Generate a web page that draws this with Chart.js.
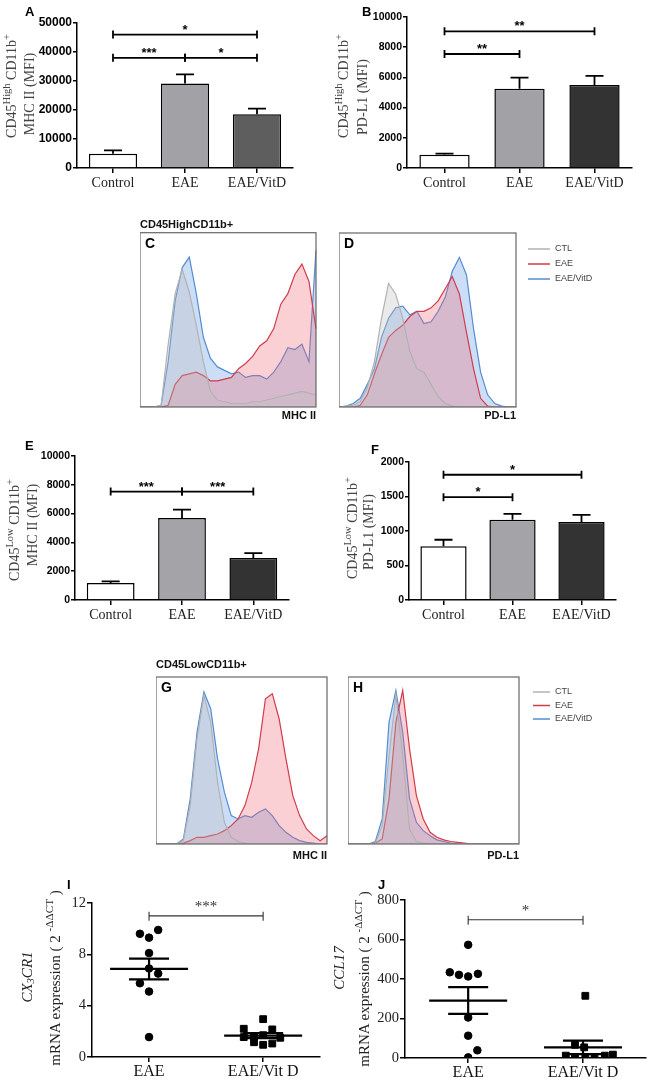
<!DOCTYPE html>
<html>
<head>
<meta charset="utf-8">
<title>CD45/CD11b activation markers</title>
<script src="https://cdn.jsdelivr.net/npm/chart.js@4.4.1/dist/chart.umd.min.js"></script>
<style>
  body { margin: 0; background: #fff; }
  #page { position: relative; width: 652px; height: 1091px; overflow: hidden; }
  canvas { position: absolute; }
  .tag { position: absolute; font: bold 13px "Liberation Sans", Arial, sans-serif; line-height: 1; color: #000; }
  .tag.in { font-size: 14px; }
  .yt { position: absolute; transform: translate(-50%, -50%) rotate(-90deg); white-space: nowrap;
        font: 14px "Liberation Serif", "Times New Roman", serif; line-height: 1; color: #444; }
  .yt sup { font-size: 0.75em; vertical-align: 0.55em; line-height: 0; }
  .yt sub { font-size: 0.7em; vertical-align: -0.25em; line-height: 0; }
  .yt.dot { color: #222; font-size: 15px; }
</style>
</head>
<body>
<div id="page">
  <canvas id="barA" width="326" height="200" style="left:0;top:0"></canvas>
  <canvas id="barB" width="326" height="200" style="left:326px;top:0"></canvas>
  <canvas id="histC" width="180" height="210" style="left:140px;top:214px"></canvas>
  <canvas id="histD" width="271" height="201" style="left:339px;top:223px"></canvas>
  <canvas id="barE" width="326" height="210" style="left:0;top:420px"></canvas>
  <canvas id="barF" width="326" height="210" style="left:326px;top:420px"></canvas>
  <canvas id="histG" width="175" height="207" style="left:156px;top:657px"></canvas>
  <canvas id="histH" width="262" height="197" style="left:348px;top:667px"></canvas>
  <canvas id="dotI" width="326" height="211" style="left:0;top:880px"></canvas>
  <canvas id="dotJ" width="326" height="211" style="left:326px;top:880px"></canvas>

  <div class="tag" style="left:25px;top:5px">A</div>
  <div class="tag" style="left:362px;top:5px">B</div>
  <div class="tag in" style="left:145px;top:236px">C</div>
  <div class="tag in" style="left:344px;top:236px">D</div>
  <div class="tag" style="left:25px;top:439px">E</div>
  <div class="tag" style="left:371px;top:443px">F</div>
  <div class="tag in" style="left:161px;top:680px">G</div>
  <div class="tag in" style="left:353px;top:680px">H</div>
  <div class="tag" style="left:67px;top:878px">I</div>
  <div class="tag" style="left:378px;top:878px">J</div>

  <div class="yt" style="left:12px;top:86px">CD45<sup>High</sup> CD11b<sup>+</sup></div>
  <div class="yt" style="left:30px;top:94px">MHC II (MFI)</div>
  <div class="yt" style="left:344px;top:86px">CD45<sup>High</sup> CD11b<sup>+</sup></div>
  <div class="yt" style="left:363px;top:97px">PD-L1 (MFI)</div>
  <div class="yt" style="left:15px;top:530px">CD45<sup>Low</sup> CD11b<sup>+</sup></div>
  <div class="yt" style="left:33px;top:525px">MHC II (MFI)</div>
  <div class="yt" style="left:353px;top:528px">CD45<sup>Low</sup> CD11b<sup>+</sup></div>
  <div class="yt" style="left:369px;top:532px">PD-L1 (MFI)</div>
  <div class="yt dot" style="left:27px;top:977px"><i>CX<sub>3</sub>CR1</i></div>
  <div class="yt dot" style="left:55px;top:978px">mRNA expression ( 2 <sup>-ΔΔCT</sup> )</div>
  <div class="yt dot" style="left:339px;top:968px"><i>CCL17</i></div>
  <div class="yt dot" style="left:364px;top:979px">mRNA expression ( 2 <sup>-ΔΔCT</sup> )</div>
</div>

<script>
// ---- bar panels (MFI, mean and SEM) ----
const groups = ['Control', 'EAE', 'EAE/VitD'];
const mhcHighMean = [4950, 29100, 18500];
const mhcHighSem = [1150, 3200, 1950];
const pdl1HighMean = [880, 5250, 5500];
const pdl1HighSem = [70, 730, 600];
const mhcLowMean = [1180, 5700, 2910];
const mhcLowSem = [110, 570, 350];
const pdl1LowMean = [778, 1162, 1130];
const pdl1LowSem = [95, 85, 105];

// [from group, to group, bracket height, stars]
const sigA = [[0, 1, 38000, '***'], [1, 2, 38000, '*'], [0, 2, 46000, '*']];
const sigB = [[0, 1, 7550, '**'], [0, 2, 9050, '**']];
const sigE = [[0, 1, 7530, '***'], [1, 2, 7530, '***']];
const sigF = [[0, 1, 1490, '*'], [0, 2, 1815, '*']];

// ---- flow histograms (% of max, per channel) ----
const histLabels = ['CTL', 'EAE', 'EAE/VitD'];
const channel = [0, 4, 8, 12, 16, 20, 24, 28, 32, 36, 40, 44, 48, 52, 56, 60, 64, 68, 72, 76, 80, 84, 88, 92, 96, 100];
const cGray = [0, 0, 0, 1, 36, 65, 79, 66, 47, 26, 9, 4, 3, 2, 2, 2, 3, 3, 4, 5, 6, 7, 8, 9, 8, 7];
const cRed = [0, 0, 0, 0, 1, 13, 18, 19, 20, 18, 15, 15, 16, 17, 22, 25, 29, 35, 38, 45, 59, 65, 76, 82, 72, 45];
const cBlue = [0, 0, 0, 1, 26, 61, 80, 86, 65, 40, 28, 23, 21, 19, 20, 17, 18, 18, 16, 20, 26, 34, 33, 36, 26, 90];
const dGray = [0, 0.5, 1, 3, 11, 26, 51, 71, 65, 51, 32, 22, 20, 13, 6, 2, 0.5, 0, 0, 0, 0, 0, 0, 0, 0, 0];
const dRed = [0, 0, 0, 1, 7, 19, 30, 40, 44, 47, 52, 55, 55, 57, 61, 68, 75, 65, 43, 22, 5, 0.5, 0, 0, 0, 0];
const dBlue = [0, 0.5, 2, 5, 13, 22, 40, 51, 57, 58, 53, 55, 48, 49, 55, 63, 78, 86, 76, 45, 20, 7, 2, 0.5, 0, 0];
const gGray = [0, 0, 0, 0, 2, 23, 63, 89, 73, 37, 13, 4, 1.5, 0.5, 0, 0, 0, 0, 0, 0, 0, 0, 0, 0, 0, 0];
const gRed = [0, 0, 0, 0, 0.5, 2, 4, 4, 5, 6, 8, 11, 15, 23, 37, 57, 87, 90, 75, 51, 29, 17, 9, 5, 2, 5];
const gBlue = [0, 0, 0, 0, 3, 27, 67, 91, 81, 51, 31, 17, 15, 17, 16, 19, 21, 17, 11, 7, 4, 2, 1, 0.5, 0, 0];
const hGray = [0, 0, 0, 0, 0.5, 11, 53, 89, 53, 9, 1.5, 0.5, 0, 0, 0, 0, 0, 0, 0, 0, 0, 0, 0, 0, 0, 0];
const hRed = [0, 0, 0, 0, 0.5, 3, 27, 73, 92, 57, 29, 15, 7, 4, 2.5, 1.5, 1, 0.5, 0, 0, 0, 0, 0, 0, 0, 0];
const hBlue = [0, 0, 0, 0, 1.5, 15, 73, 92, 67, 27, 13, 8, 5, 2.5, 1.5, 0.5, 0, 0, 0, 0, 0, 0, 0, 0, 0, 0];

// ---- qPCR dot plots ----
const dotGroups = ['EAE', 'EAE/Vit D'];
const cx3cr1Eae = [9.6, 9.3, 9.9, 8.1, 6.9, 6.5, 5.75, 5.1, 1.55];
const cx3cr1EaeJit = [-0.08, 0, 0.08, 0, 0, 0.08, -0.08, 0, 0];
const cx3cr1Vitd = [2.95, 2.2, 2.15, 1.55, 1.6, 1.7, 1.5, 1.15, 0.95, 1.05];
const cx3cr1VitdJit = [0, -0.17, 0.08, -0.17, -0.08, 0, 0.15, -0.08, 0, 0.08];
const cx3cr1Mean = [6.86, 1.67];
const cx3cr1Sem = [0.81, 0.2];
const ccl17Eae = [573, 434, 421, 413, 426, 205, 113, 39, 3];
const ccl17EaeJit = [0, -0.16, -0.08, 0, 0.085, 0, 0, 0.08, 0];
const ccl17Vitd = [315, 67, 54, 12, 5, 5, 5, 12, 17];
const ccl17VitdJit = [0.02, -0.07, 0.01, -0.15, -0.07, 0.02, 0.1, 0.19, 0.26];
const ccl17Mean = [291, 54];
const ccl17Sem = [68, 34];
const sigI = [[1, 2, 11, '***']];
const sigJ = [[1, 2, 700, '*']];

const sans = '"Liberation Sans", Arial, sans-serif';
const serif = '"Liberation Serif", "Times New Roman", serif';
Chart.defaults.font.family = sans;
Chart.defaults.color = '#000';

// error bars, upper half only (GraphPad style)
const errorBars = {
  id: 'errorBars',
  afterDatasetsDraw(chart, args, o) {
    if (!o.err) return;
    const { ctx } = chart;
    const y = chart.scales.y;
    const values = chart.data.datasets[0].data;
    ctx.save();
    ctx.strokeStyle = '#000';
    ctx.lineWidth = 1.8;
    chart.getDatasetMeta(0).data.forEach((bar, i) => {
      const top = y.getPixelForValue(values[i] + o.err[i]);
      ctx.beginPath();
      ctx.moveTo(bar.x, bar.y);
      ctx.lineTo(bar.x, top);
      ctx.moveTo(bar.x - o.cap, top);
      ctx.lineTo(bar.x + o.cap, top);
      ctx.stroke();
    });
    ctx.restore();
  }
};

// significance brackets with stars
const brackets = {
  id: 'brackets',
  afterDraw(chart, args, o) {
    if (!o.items) return;
    const { ctx } = chart;
    const x = chart.scales.x, y = chart.scales.y;
    ctx.save();
    ctx.strokeStyle = o.color;
    ctx.fillStyle = o.color;
    ctx.lineWidth = o.width;
    ctx.font = o.starFont;
    ctx.textAlign = 'center';
    ctx.textBaseline = 'alphabetic';
    o.items.forEach(([from, to, at, stars]) => {
      const x1 = x.getPixelForValue(from), x2 = x.getPixelForValue(to);
      const yy = y.getPixelForValue(at);
      ctx.beginPath();
      ctx.moveTo(x1, yy);
      ctx.lineTo(x2, yy);
      [x1, x2].forEach(px => {
        ctx.moveTo(px, yy - o.up);
        ctx.lineTo(px, yy + o.down);
      });
      ctx.stroke();
      ctx.fillText(stars, (x1 + x2) / 2, yy - o.lift);
    });
    ctx.restore();
  }
};

// mean line with SEM whiskers for the dot plots
const meanSem = {
  id: 'meanSem',
  afterDatasetsDraw(chart, args, o) {
    if (!o.mean) return;
    const { ctx } = chart;
    const x = chart.scales.x, y = chart.scales.y;
    ctx.save();
    ctx.strokeStyle = '#000';
    ctx.lineWidth = 2.2;
    o.mean.forEach((m, i) => {
      const cx = x.getPixelForValue(i + 1);
      const ym = y.getPixelForValue(m);
      const yt = y.getPixelForValue(m + o.sem[i]);
      const yb = y.getPixelForValue(m - o.sem[i]);
      ctx.beginPath();
      ctx.moveTo(cx - o.meanHalf, ym); ctx.lineTo(cx + o.meanHalf, ym);
      ctx.moveTo(cx - o.semHalf, yt); ctx.lineTo(cx + o.semHalf, yt);
      ctx.moveTo(cx - o.semHalf, yb); ctx.lineTo(cx + o.semHalf, yb);
      ctx.moveTo(cx, yt); ctx.lineTo(cx, yb);
      ctx.stroke();
    });
    ctx.restore();
  }
};

// box round the histogram plot area
const frame = {
  id: 'frame',
  afterDraw(chart, args, o) {
    if (!o.show) return;
    const { ctx, chartArea: a } = chart;
    ctx.save();
    ctx.strokeStyle = '#666';
    ctx.lineWidth = 1.2;
    ctx.strokeRect(a.left, a.top, a.right - a.left, a.bottom - a.top);
    ctx.restore();
  }
};

// legend to the right of the histogram box
const sideLegend = {
  id: 'sideLegend',
  afterDraw(chart, args, o) {
    if (!o.show) return;
    const { ctx, chartArea: a } = chart;
    ctx.save();
    ctx.font = '9px ' + sans;
    ctx.textBaseline = 'middle';
    chart.data.datasets.forEach((ds, i) => {
      const yy = a.top + o.y0 + i * o.step;
      const x0 = a.right + o.dx;
      ctx.strokeStyle = ds.borderColor;
      ctx.lineWidth = 1.5;
      ctx.beginPath();
      ctx.moveTo(x0, yy);
      ctx.lineTo(x0 + o.len, yy);
      ctx.stroke();
      ctx.fillStyle = '#444';
      ctx.fillText(ds.label, x0 + o.len + 5, yy);
    });
    ctx.restore();
  }
};

Chart.register(errorBars, brackets, meanSem, frame, sideLegend);

const axisLine = { color: '#000', width: 1.5 };
const tickMarks = { drawOnChartArea: false, tickLength: 5, color: '#000', lineWidth: 1.5 };

function makeBar(id, means, sems, fills, sig, yMax, yStep, tickSize, pad) {
  return new Chart(document.getElementById(id), {
    type: 'bar',
    data: {
      labels: groups,
      datasets: [{
        data: means,
        backgroundColor: fills,
        borderColor: '#000',
        borderWidth: 1.5,
        barPercentage: 0.67,
        categoryPercentage: 1
      }]
    },
    options: {
      responsive: false,
      animation: false,
      devicePixelRatio: 1,
      layout: { padding: pad },
      plugins: {
        legend: { display: false },
        tooltip: { enabled: false },
        errorBars: { err: sems, cap: 9 },
        brackets: { items: sig, color: '#000', width: 1.8, up: 4, down: 4, lift: 1, starFont: 'bold 13px ' + sans }
      },
      scales: {
        x: {
          grid: Object.assign({ offset: false }, tickMarks),
          border: axisLine,
          ticks: { font: { family: serif, size: 14 }, color: '#222', padding: 2 },
          afterFit: s => { s.height = 24; }
        },
        y: {
          min: 0,
          max: yMax,
          grid: Object.assign({}, tickMarks, { tickLength: 4 }),
          border: axisLine,
          ticks: { stepSize: yStep, callback: v => String(v), font: { size: tickSize, weight: 'bold' }, color: '#000', padding: 1 },
          afterFit: s => { s.width = 40; }
        }
      }
    }
  });
}

const lineCols = ['rgb(178,178,178)', 'rgb(208,60,75)', 'rgb(85,140,210)'];
const fillCols = ['rgba(190,190,190,0.32)', 'rgba(240,100,112,0.3)', 'rgba(85,145,225,0.3)'];

function makeHist(id, sets, o) {
  return new Chart(document.getElementById(id), {
    type: 'line',
    data: {
      labels: channel,
      datasets: sets.map((s, i) => ({
        label: histLabels[i],
        data: s,
        borderColor: lineCols[i],
        backgroundColor: fillCols[i],
        borderWidth: 1.2,
        fill: 'origin',
        pointRadius: 0,
        tension: 0
      }))
    },
    options: {
      responsive: false,
      animation: false,
      devicePixelRatio: 1,
      layout: { padding: o.pad },
      plugins: {
        legend: { display: false },
        tooltip: { enabled: false },
        title: o.title
          ? { display: true, text: o.title, align: 'start', color: '#111', font: { size: 11, weight: 'bold' }, padding: o.titlePad }
          : { display: false },
        frame: { show: true },
        sideLegend: o.legend || { show: false }
      },
      scales: {
        x: {
          grid: { display: false, drawTicks: false },
          border: { display: false },
          ticks: { display: false },
          title: { display: true, text: o.xTitle, align: 'end', color: '#111', font: { size: 11, weight: 'bold' }, padding: { top: o.xPad, bottom: 0 } }
        },
        y: { display: false, min: 0, max: 100 }
      }
    }
  });
}

function jitter(vals, jit) {
  return (g) => vals.map((v, i) => ({ x: g + jit[i], y: v }));
}

function makeDot(id, eae, vitd, mean, sem, sig, yMax, yStep, xMin, xMax, yWidth, pad) {
  return new Chart(document.getElementById(id), {
    type: 'scatter',
    data: {
      datasets: [
        { label: dotGroups[0], data: eae(1), pointStyle: 'circle', pointRadius: 3.8, backgroundColor: '#000', borderColor: '#000' },
        { label: dotGroups[1], data: vitd(2), pointStyle: 'rect', pointRadius: 4.8, backgroundColor: '#000', borderColor: '#000' }
      ]
    },
    options: {
      responsive: false,
      animation: false,
      devicePixelRatio: 1,
      layout: { padding: pad },
      plugins: {
        legend: { display: false },
        tooltip: { enabled: false },
        meanSem: { mean: mean, sem: sem, meanHalf: 39, semHalf: 20 },
        brackets: { items: sig, color: '#333', width: 1.1, up: 4, down: 5, lift: 5, starFont: '15px ' + serif }
      },
      scales: {
        x: {
          type: 'linear',
          min: xMin,
          max: xMax,
          grid: tickMarks,
          border: axisLine,
          afterBuildTicks: s => { s.ticks = [{ value: 1 }, { value: 2 }]; },
          ticks: { callback: v => dotGroups[Math.round(v) - 1], font: { family: serif, size: 16 }, color: '#111', padding: 0 },
          afterFit: s => { s.height = 30; }
        },
        y: {
          min: 0,
          max: yMax,
          grid: tickMarks,
          border: axisLine,
          ticks: { stepSize: yStep, callback: v => String(v), font: { family: serif, size: 14.5 }, color: '#222', padding: 1 },
          afterFit: s => { s.width = yWidth; }
        }
      }
    }
  });
}

makeBar('barA', mhcHighMean, mhcHighSem, ['#ffffff', '#a2a2a6', '#5e5e5e'], sigA, 50000, 10000, 12,
  { left: 37, right: 33, top: 23, bottom: 8 });
makeBar('barB', pdl1HighMean, pdl1HighSem, ['#ffffff', '#a2a2a6', '#333333'], sigB, 10000, 2000, 10.5,
  { left: 41, right: 20, top: 17, bottom: 8 });
makeBar('barE', mhcLowMean, mhcLowSem, ['#ffffff', '#a4a4a8', '#333333'], sigE, 10000, 2000, 10.5,
  { left: 35, right: 37, top: 36, bottom: 6 });
makeBar('barF', pdl1LowMean, pdl1LowSem, ['#ffffff', '#a4a4a8', '#333333'], sigF, 2000, 500, 10.5,
  { left: 43, right: 36, top: 42, bottom: 6 });

makeHist('histC', [cGray, cRed, cBlue], {
  pad: { left: 0, right: 4, top: 0, bottom: 1.4 }, title: 'CD45HighCD11b+', titlePad: { top: 4, bottom: 1.5 },
  xTitle: 'MHC II', xPad: 2.4
});
makeHist('histD', [dGray, dRed, dBlue], {
  pad: { left: 0, right: 94, top: 10, bottom: 1.4 }, xTitle: 'PD-L1', xPad: 2.4,
  legend: { show: true, dx: 12, len: 22, y0: 16, step: 15 }
});
makeHist('histG', [gGray, gRed, gBlue], {
  pad: { left: 0, right: 4, top: 0, bottom: 1.4 }, title: 'CD45LowCD11b+', titlePad: { top: 1.4, bottom: 5.4 },
  xTitle: 'MHC II', xPad: 5.4
});
makeHist('histH', [hGray, hRed, hBlue], {
  pad: { left: 0, right: 91, top: 10, bottom: 1.4 }, xTitle: 'PD-L1', xPad: 5.4,
  legend: { show: true, dx: 14, len: 17, y0: 15, step: 13.5 }
});

makeDot('dotI', jitter(cx3cr1Eae, cx3cr1EaeJit), jitter(cx3cr1Vitd, cx3cr1VitdJit), cx3cr1Mean, cx3cr1Sem, sigI,
  12, 4, 0.5, 2.5, 30, { left: 62, right: 2, top: 23, bottom: 4 });
makeDot('dotJ', jitter(ccl17Eae, ccl17EaeJit), jitter(ccl17Vitd, ccl17VitdJit), ccl17Mean, ccl17Sem, sigJ,
  800, 200, 0.45, 2.55, 40, { left: 39, right: 1, top: 20, bottom: 3 });
</script>
</body>
</html>
